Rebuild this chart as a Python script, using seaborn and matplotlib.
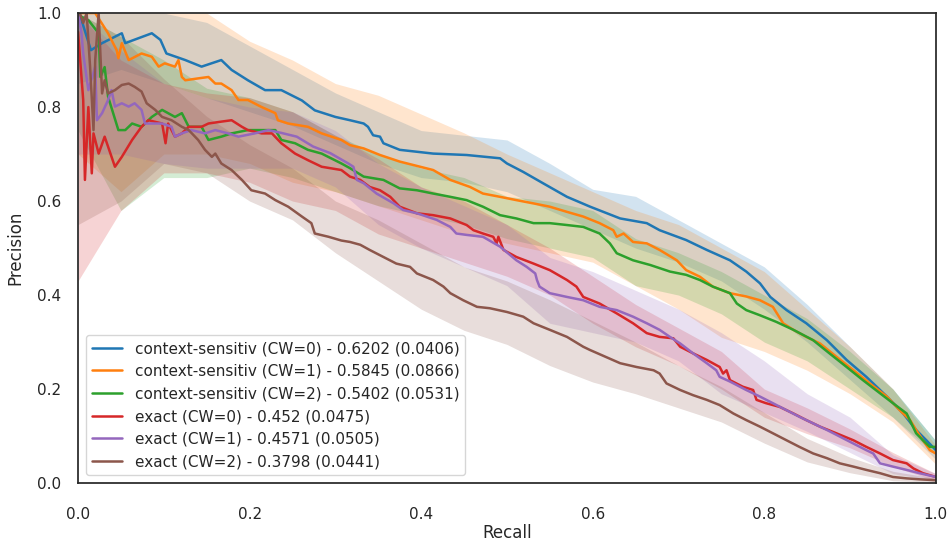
import matplotlib
matplotlib.use("Agg")
import matplotlib.pyplot as plt
import pandas as pd
import seaborn as sns

# -------------------------------
# DATA - mean PR curves (recall, precision)
# -------------------------------
labels = [
    "context-sensitiv (CW=0) - 0.6202 (0.0406)",
    "context-sensitiv (CW=1) - 0.5845 (0.0866)",
    "context-sensitiv (CW=2) - 0.5402 (0.0531)",
    "exact (CW=0) - 0.452 (0.0475)",
    "exact (CW=1) - 0.4571 (0.0505)",
    "exact (CW=2) - 0.3798 (0.0441)",
]

cs0_recall = [0.0, 0.004, 0.015, 0.028, 0.051, 0.055, 0.086, 0.096, 0.103, 0.125, 0.144, 0.167, 0.179, 0.198,
              0.218, 0.237, 0.261, 0.276, 0.3, 0.317, 0.333, 0.338, 0.344, 0.352, 0.356, 0.375, 0.414, 0.453,
              0.492, 0.5, 0.519, 0.542, 0.57, 0.597, 0.632, 0.663, 0.678, 0.709, 0.733, 0.76, 0.779, 0.795,
              0.807, 0.826, 0.849, 0.873, 0.896, 0.919, 0.943, 0.962, 0.977, 0.989, 1.0]
cs0_precision = [1.0, 0.985, 0.921, 0.936, 0.957, 0.936, 0.957, 0.943, 0.914, 0.9, 0.886, 0.9, 0.879, 0.857,
                 0.836, 0.836, 0.814, 0.793, 0.779, 0.772, 0.765, 0.758, 0.74, 0.737, 0.723, 0.709, 0.701, 0.698,
                 0.691, 0.68, 0.662, 0.638, 0.609, 0.588, 0.563, 0.553, 0.538, 0.517, 0.496, 0.474, 0.45, 0.425,
                 0.396, 0.368, 0.34, 0.304, 0.262, 0.226, 0.184, 0.148, 0.113, 0.091, 0.07]

cs1_recall = [0.0, 0.02, 0.035, 0.045, 0.047, 0.051, 0.059, 0.074, 0.086, 0.094, 0.101, 0.113, 0.117, 0.121,
              0.125, 0.14, 0.152, 0.16, 0.167, 0.179, 0.187, 0.198, 0.214, 0.23, 0.233, 0.245, 0.268, 0.284,
              0.307, 0.317, 0.333, 0.352, 0.375, 0.414, 0.434, 0.457, 0.472, 0.492, 0.511, 0.531, 0.55, 0.57,
              0.589, 0.608, 0.624, 0.628, 0.636, 0.647, 0.663, 0.678, 0.698, 0.709, 0.725, 0.74, 0.76, 0.779,
              0.795, 0.81, 0.822, 0.834, 0.849, 0.865, 0.884, 0.904, 0.923, 0.943, 0.958, 0.97, 0.977, 0.985,
              0.993, 1.0]
cs1_precision = [1.0, 1.0, 0.957, 0.921, 0.904, 0.936, 0.9, 0.914, 0.907, 0.886, 0.893, 0.886, 0.9, 0.864,
                 0.857, 0.861, 0.864, 0.85, 0.85, 0.836, 0.815, 0.815, 0.8, 0.787, 0.772, 0.765, 0.758, 0.744,
                 0.73, 0.719, 0.712, 0.698, 0.684, 0.666, 0.645, 0.63, 0.616, 0.609, 0.602, 0.595, 0.588, 0.577,
                 0.567, 0.553, 0.538, 0.524, 0.531, 0.513, 0.51, 0.496, 0.474, 0.453, 0.439, 0.418, 0.404, 0.397,
                 0.389, 0.375, 0.34, 0.326, 0.311, 0.297, 0.269, 0.24, 0.212, 0.184, 0.155, 0.134, 0.113, 0.091,
                 0.07, 0.063]

cs2_recall = [0.0, 0.004, 0.012, 0.024, 0.026, 0.031, 0.035, 0.047, 0.055, 0.063, 0.074, 0.086, 0.098, 0.113,
              0.121, 0.129, 0.144, 0.152, 0.167, 0.179, 0.198, 0.214, 0.23, 0.237, 0.253, 0.268, 0.284, 0.307,
              0.317, 0.333, 0.356, 0.375, 0.395, 0.414, 0.434, 0.453, 0.472, 0.492, 0.511, 0.531, 0.55, 0.57,
              0.589, 0.608, 0.62, 0.628, 0.647, 0.667, 0.69, 0.709, 0.725, 0.74, 0.76, 0.768, 0.779, 0.795,
              0.814, 0.834, 0.857, 0.876, 0.896, 0.915, 0.935, 0.95, 0.966, 0.977, 0.985, 0.993, 1.0]
cs2_precision = [1.0, 0.992, 0.985, 0.957, 0.864, 0.885, 0.822, 0.751, 0.751, 0.765, 0.758, 0.779, 0.794, 0.779,
                 0.787, 0.758, 0.758, 0.73, 0.737, 0.744, 0.751, 0.751, 0.751, 0.73, 0.723, 0.709, 0.701, 0.68,
                 0.67, 0.652, 0.645, 0.627, 0.623, 0.616, 0.609, 0.602, 0.588, 0.57, 0.563, 0.553, 0.553, 0.549,
                 0.545, 0.531, 0.51, 0.489, 0.474, 0.464, 0.45, 0.443, 0.432, 0.418, 0.404, 0.382, 0.368, 0.357,
                 0.343, 0.326, 0.304, 0.276, 0.247, 0.219, 0.191, 0.17, 0.148, 0.106, 0.091, 0.077, 0.077]

ex0_recall = [0.0, 0.006, 0.008, 0.012, 0.016, 0.018, 0.024, 0.031, 0.043, 0.051, 0.063, 0.074, 0.082, 0.098,
              0.102, 0.105, 0.113, 0.121, 0.129, 0.144, 0.152, 0.167, 0.179, 0.191, 0.198, 0.214, 0.226, 0.237,
              0.253, 0.268, 0.284, 0.307, 0.317, 0.329, 0.34, 0.352, 0.364, 0.375, 0.395, 0.414, 0.434, 0.453,
              0.461, 0.472, 0.484, 0.488, 0.49, 0.496, 0.511, 0.531, 0.55, 0.57, 0.581, 0.589, 0.608, 0.628,
              0.647, 0.663, 0.678, 0.694, 0.702, 0.717, 0.733, 0.748, 0.752, 0.756, 0.76, 0.775, 0.787, 0.791,
              0.802, 0.818, 0.834, 0.849, 0.865, 0.884, 0.904, 0.919, 0.935, 0.95, 0.966, 0.974, 0.985, 1.0]
ex0_precision = [0.96, 0.815, 0.645, 0.8, 0.659, 0.744, 0.701, 0.737, 0.673, 0.694, 0.73, 0.758, 0.772, 0.765,
                 0.723, 0.765, 0.737, 0.744, 0.758, 0.758, 0.765, 0.769, 0.772, 0.758, 0.751, 0.744, 0.744, 0.723,
                 0.701, 0.687, 0.673, 0.666, 0.652, 0.645, 0.63, 0.623, 0.609, 0.588, 0.574, 0.57, 0.563, 0.549,
                 0.538, 0.531, 0.524, 0.51, 0.524, 0.496, 0.481, 0.467, 0.453, 0.432, 0.418, 0.396, 0.382, 0.361,
                 0.34, 0.319, 0.311, 0.308, 0.29, 0.276, 0.262, 0.247, 0.233, 0.24, 0.219, 0.205, 0.198, 0.177,
                 0.17, 0.162, 0.148, 0.134, 0.12, 0.106, 0.091, 0.077, 0.063, 0.049, 0.042, 0.031, 0.021, 0.013]

ex1_recall = [0.0, 0.004, 0.006, 0.012, 0.02, 0.022, 0.028, 0.035, 0.039, 0.043, 0.051, 0.059, 0.066, 0.074,
              0.078, 0.086, 0.098, 0.109, 0.113, 0.121, 0.132, 0.148, 0.16, 0.175, 0.187, 0.206, 0.222, 0.237,
              0.255, 0.274, 0.294, 0.315, 0.321, 0.325, 0.333, 0.348, 0.368, 0.379, 0.395, 0.418, 0.434, 0.441,
              0.453, 0.472, 0.492, 0.511, 0.523, 0.533, 0.535, 0.538, 0.55, 0.57, 0.589, 0.608, 0.628, 0.647,
              0.663, 0.678, 0.69, 0.702, 0.717, 0.733, 0.744, 0.748, 0.76, 0.779, 0.795, 0.81, 0.826, 0.841,
              0.857, 0.873, 0.888, 0.904, 0.919, 0.927, 0.935, 0.95, 0.966, 0.981, 1.0]
ex1_precision = [1.0, 0.957, 0.914, 0.836, 0.886, 0.772, 0.787, 0.815, 0.836, 0.801, 0.808, 0.801, 0.808, 0.794,
                 0.765, 0.765, 0.765, 0.758, 0.737, 0.744, 0.751, 0.744, 0.751, 0.744, 0.737, 0.744, 0.751, 0.745,
                 0.737, 0.716, 0.702, 0.68, 0.673, 0.645, 0.638, 0.616, 0.595, 0.581, 0.574, 0.56, 0.545, 0.531,
                 0.528, 0.524, 0.503, 0.474, 0.46, 0.446, 0.432, 0.418, 0.404, 0.396, 0.389, 0.375, 0.368, 0.354,
                 0.34, 0.326, 0.311, 0.297, 0.276, 0.255, 0.24, 0.226, 0.216, 0.198, 0.184, 0.17, 0.155, 0.141,
                 0.127, 0.113, 0.099, 0.084, 0.07, 0.063, 0.042, 0.035, 0.028, 0.021, 0.013]

ex2_recall = [0.0, 0.002, 0.006, 0.01, 0.014, 0.018, 0.02, 0.024, 0.028, 0.031, 0.035, 0.043, 0.051, 0.059,
              0.066, 0.074, 0.08, 0.09, 0.098, 0.109, 0.121, 0.129, 0.14, 0.148, 0.156, 0.16, 0.167, 0.179,
              0.191, 0.202, 0.218, 0.23, 0.245, 0.261, 0.272, 0.276, 0.292, 0.307, 0.317, 0.329, 0.34, 0.356,
              0.371, 0.387, 0.395, 0.414, 0.426, 0.434, 0.449, 0.465, 0.48, 0.5, 0.519, 0.531, 0.55, 0.57,
              0.589, 0.597, 0.632, 0.651, 0.671, 0.678, 0.686, 0.702, 0.717, 0.733, 0.748, 0.764, 0.779, 0.795,
              0.81, 0.826, 0.841, 0.857, 0.873, 0.888, 0.904, 0.919, 0.935, 0.95, 0.966, 0.981, 1.0]
ex2_precision = [1.0, 1.0, 0.979, 1.0, 0.886, 0.751, 0.9, 1.0, 0.829, 0.857, 0.829, 0.836, 0.847, 0.85,
                 0.843, 0.833, 0.808, 0.794, 0.779, 0.772, 0.758, 0.751, 0.73, 0.709, 0.694, 0.701, 0.68, 0.666,
                 0.645, 0.623, 0.616, 0.602, 0.588, 0.567, 0.553, 0.531, 0.524, 0.516, 0.513, 0.507, 0.496, 0.481,
                 0.467, 0.46, 0.446, 0.432, 0.418, 0.404, 0.389, 0.375, 0.372, 0.364, 0.354, 0.34, 0.326, 0.311,
                 0.29, 0.283, 0.255, 0.247, 0.24, 0.233, 0.212, 0.198, 0.187, 0.177, 0.166, 0.148, 0.134, 0.12,
                 0.106, 0.091, 0.077, 0.063, 0.053, 0.042, 0.035, 0.028, 0.021, 0.013, 0.01, 0.008, 0.006]

# -------------------------------
# DATA - spread bands (lower / upper) at coarse recall knots
# -------------------------------
band_recall = [0.0, 0.05, 0.1, 0.15, 0.2, 0.25, 0.3, 0.35, 0.4, 0.45, 0.5,
               0.55, 0.6, 0.65, 0.7, 0.75, 0.8, 0.85, 0.9, 0.95, 1.0]

cs0_upper = [1.0, 1.0, 1.0, 0.98, 0.93, 0.88, 0.83, 0.79, 0.75, 0.74, 0.73,
             0.68, 0.625, 0.61, 0.56, 0.51, 0.46, 0.38, 0.29, 0.2, 0.09]
cs0_lower = [0.85, 0.88, 0.85, 0.82, 0.79, 0.76, 0.72, 0.68, 0.65, 0.64, 0.62,
             0.58, 0.54, 0.5, 0.47, 0.43, 0.37, 0.3, 0.22, 0.14, 0.05]

cs1_upper = [1.0, 1.0, 1.0, 1.0, 0.94, 0.9, 0.85, 0.825, 0.785, 0.745, 0.7,
             0.66, 0.62, 0.58, 0.55, 0.5, 0.45, 0.37, 0.29, 0.2, 0.08]
cs1_lower = [0.7, 0.62, 0.7, 0.7, 0.68, 0.64, 0.62, 0.59, 0.56, 0.53, 0.51,
             0.49, 0.47, 0.42, 0.37, 0.31, 0.28, 0.24, 0.19, 0.13, 0.04]

cs2_upper = [1.0, 0.95, 0.9, 0.84, 0.82, 0.79, 0.74, 0.7, 0.67, 0.65, 0.61,
             0.6, 0.58, 0.52, 0.49, 0.45, 0.4, 0.35, 0.28, 0.2, 0.09]
cs2_lower = [0.75, 0.58, 0.65, 0.65, 0.67, 0.65, 0.62, 0.59, 0.57, 0.55, 0.52,
             0.5, 0.48, 0.42, 0.4, 0.36, 0.3, 0.26, 0.2, 0.14, 0.06]

ex0_upper = [1.0, 0.9, 0.85, 0.83, 0.82, 0.79, 0.74, 0.69, 0.63, 0.6, 0.55,
             0.5, 0.44, 0.38, 0.33, 0.28, 0.2, 0.16, 0.115, 0.065, 0.02]
ex0_lower = [0.43, 0.58, 0.66, 0.66, 0.64, 0.6, 0.58, 0.53, 0.5, 0.47, 0.44,
             0.4, 0.34, 0.29, 0.25, 0.2, 0.14, 0.105, 0.075, 0.035, 0.005]

ex1_upper = [1.0, 0.92, 0.85, 0.82, 0.8, 0.79, 0.75, 0.68, 0.63, 0.59, 0.55,
             0.48, 0.45, 0.41, 0.37, 0.32, 0.26, 0.19, 0.14, 0.06, 0.02]
ex1_lower = [0.7, 0.7, 0.68, 0.67, 0.67, 0.67, 0.63, 0.55, 0.5, 0.46, 0.42,
             0.34, 0.32, 0.3, 0.26, 0.19, 0.15, 0.11, 0.065, 0.02, 0.005]

ex2_upper = [1.0, 0.95, 0.86, 0.78, 0.72, 0.67, 0.6, 0.56, 0.51, 0.46, 0.43,
             0.39, 0.345, 0.3, 0.25, 0.205, 0.15, 0.095, 0.055, 0.025, 0.01]
ex2_lower = [0.55, 0.6, 0.68, 0.66, 0.6, 0.56, 0.49, 0.43, 0.37, 0.325, 0.295,
             0.25, 0.215, 0.19, 0.16, 0.13, 0.085, 0.045, 0.022, 0.005, 0.002]

# -------------------------------
# PLOT
# -------------------------------
sns.set_theme(style="white", context="notebook")
colors = sns.color_palette("tab10", 6)

curves = [
    (cs0_recall, cs0_precision, cs0_lower, cs0_upper),
    (cs1_recall, cs1_precision, cs1_lower, cs1_upper),
    (cs2_recall, cs2_precision, cs2_lower, cs2_upper),
    (ex0_recall, ex0_precision, ex0_lower, ex0_upper),
    (ex1_recall, ex1_precision, ex1_lower, ex1_upper),
    (ex2_recall, ex2_precision, ex2_lower, ex2_upper),
]

fig, ax = plt.subplots(figsize=(9.52, 5.44), dpi=100)

for (rec, prec, lo, hi), label, color in zip(curves, labels, colors):
    df = pd.DataFrame({"Recall": rec, "Precision": prec})
    sns.lineplot(data=df, x="Recall", y="Precision", ax=ax, color=color,
                 label=label, estimator=None, sort=False, linewidth=1.8)
    ax.fill_between(band_recall, lo, hi, color=color, alpha=0.2, linewidth=0)

ax.set_xlim(0, 1)
ax.set_ylim(0, 1)
ax.set_xlabel("Recall", labelpad=2)
ax.set_ylabel("Precision", labelpad=9)
ax.tick_params(axis="x", pad=11)
ax.tick_params(axis="y", pad=6)
ax.legend(loc="lower left", fontsize=11)

plt.subplots_adjust(left=0.082, right=0.983, top=0.976, bottom=0.112)
plt.savefig("out.png")
